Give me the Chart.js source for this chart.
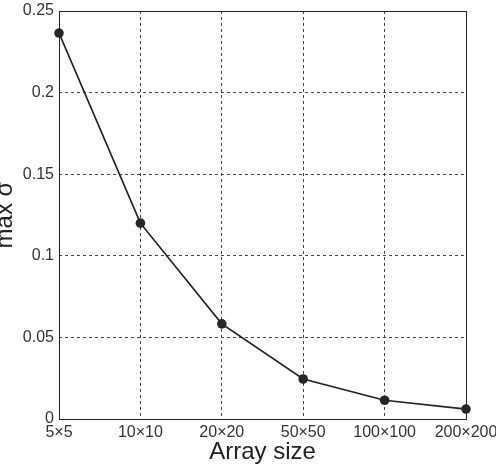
<!DOCTYPE html>
<html><head><meta charset="utf-8">
<style>html,body{margin:0;padding:0;background:#fff;overflow:hidden}#wrap{width:496px;height:464px;position:relative}</style>
<script src="https://cdn.jsdelivr.net/npm/chart.js@4/dist/chart.umd.min.js"></script>
</head><body><div id="wrap"><canvas id="c" width="496" height="464"></canvas></div>
<script>
const categories = ['5×5','10×10','20×20','50×50','100×100','200×200'];
const maxSigma = [0.2365, 0.120, 0.0583, 0.0245, 0.0115, 0.0061];
const yTickLabels = ['0','0.05','0.1','0.15','0.2','0.25'];
const xTitle = 'Array size';
const yTitle = 'max σ';

const FONT = '"Liberation Sans", Arial, sans-serif';
const TEXT = '#333333';
const grid = {color:'#444444', lineWidth:1, drawTicks:false};

const boxPlugin = {
  id:'box',
  beforeDatasetsDraw(chart){
    const a = chart.chartArea, ctx = chart.ctx;
    ctx.save();
    ctx.strokeStyle = '#222222';
    ctx.lineWidth = 1;
    ctx.setLineDash([]);
    ctx.strokeRect(Math.round(a.left)+0.5, Math.round(a.top)+0.5, Math.round(a.right-a.left), Math.round(a.bottom-a.top));
    ctx.restore();
  }
};

new Chart(document.getElementById('c'), {
  type:'line',
  data:{labels:categories, datasets:[{
    data:maxSigma, borderColor:'#222222', borderWidth:1.7,
    pointRadius:4.8, pointHoverRadius:4.8, pointBackgroundColor:'#262626', pointBorderColor:'#262626', pointBorderWidth:0,
    tension:0, clip:false
  }]},
  options:{
    responsive:false, animation:false, devicePixelRatio:1,
    layout:{padding:{left:0, right:30, top:11, bottom:0}},
    plugins:{legend:{display:false}, tooltip:{enabled:false}},
    scales:{
      x:{
        offset:false,
        grid:Object.assign({}, grid, {offset:false}),
        border:{display:false, dash:[3,3]},
        ticks:{color:TEXT, font:{family:FONT, size:16}, padding:4, maxRotation:0, autoSkip:false},
        title:{display:true, text:xTitle, color:'#222222', font:{family:FONT, size:24}, padding:{top:0, bottom:-3}},
        afterFit(s){ s.height = 45; s.paddingLeft = 0; s.paddingRight = 0; }
      },
      y:{
        min:0, max:0.25,
        grid:grid,
        border:{display:false, dash:[3,3]},
        ticks:{stepSize:0.05, color:TEXT, font:{family:FONT, size:16}, padding:5,
          callback:(v,i)=>yTickLabels[i]},
        title:{display:true, text:yTitle, color:'#222222', font:{family:FONT, size:24}, padding:{top:-9.5, bottom:0}},
        afterFit(s){ s.width = 59; s.paddingTop = 0; s.paddingBottom = 0; }
      }
    }
  },
  plugins:[boxPlugin]
});
</script></body></html>
